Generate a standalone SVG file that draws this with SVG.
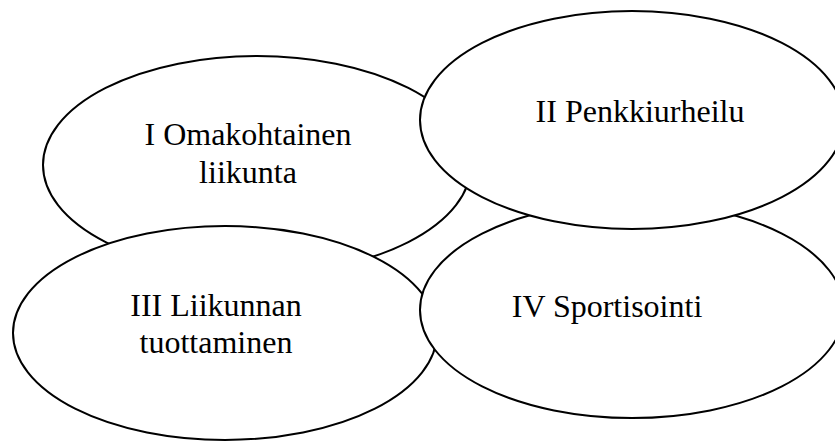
<svg xmlns="http://www.w3.org/2000/svg" width="835" height="441" viewBox="0 0 835 441">
<style>
.e{fill:#fff;stroke:#000;stroke-width:2}
.t{font-family:"Liberation Serif","Times New Roman",serif;font-size:32px;fill:#000;text-anchor:middle}
</style>
<rect width="835" height="441" fill="#fff"/>
<g id="node1"><ellipse class="e" cx="257" cy="165" rx="214" ry="109"/><text class="t" x="248" y="145">I Omakohtainen</text><text class="t" x="248" y="183">liikunta</text></g>
<g id="node3"><ellipse class="e" cx="225" cy="333" rx="212" ry="107"/><text class="t" x="216" y="316">III Liikunnan</text><text class="t" x="216" y="353">tuottaminen</text></g>
<g id="node4"><ellipse class="e" cx="632" cy="310" rx="212" ry="108"/><text class="t" x="607" y="317">IV Sportisointi</text></g>
<g id="node2"><ellipse class="e" cx="632" cy="120" rx="212" ry="109"/><text class="t" x="640" y="122">II Penkkiurheilu</text></g>
<g id="connectors"></g>
</svg>
